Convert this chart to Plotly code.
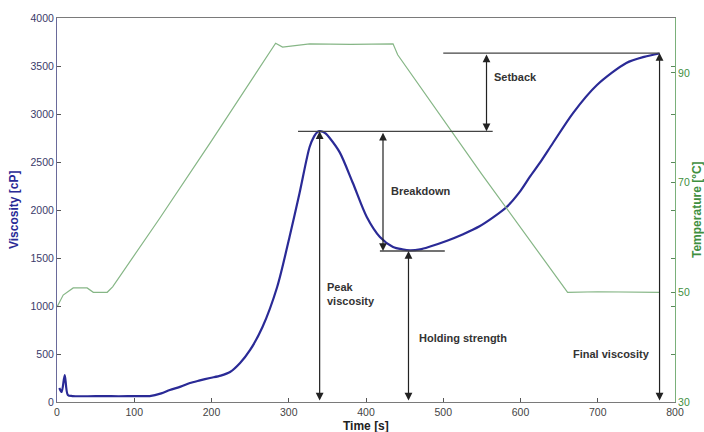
import plotly.graph_objects as go

# viscosity curve (cP) vs time (s)
t_visc = [3, 6, 10, 14, 20, 40, 60, 80, 100, 120, 135, 146, 160, 172, 185, 198,
          212, 224, 237, 250, 266, 285, 301, 314, 327, 333, 337, 340, 344, 348, 353, 366,
          383, 401, 418, 435, 447, 457, 470, 483, 505, 525, 547, 565, 582, 600,
          612, 625, 642, 668, 699, 737, 760, 780]
visc = [146, 104, 281, 73, 62, 60, 62, 60, 62, 62, 90, 125, 160, 198, 225, 250,
        275, 312, 406, 542, 781, 1198, 1719, 2177, 2656, 2770, 2812, 2822, 2815, 2795, 2750, 2600,
        2281, 1927, 1719, 1615, 1590, 1580, 1590, 1620, 1680, 1745, 1830, 1925, 2031, 2200,
        2344, 2490, 2698, 3010, 3302, 3531, 3595, 3630]

# temperature profile (°C)
t_temp = [0, 8, 21, 39, 47, 65, 72, 133, 200, 283, 292, 327, 380, 435, 441,
          550, 661, 700, 780]
temp = [47.3, 49.5, 50.8, 50.8, 50.0, 50.0, 51.0, 63.5, 77.6, 95.4, 94.7, 95.3,
        95.2, 95.3, 93.3, 71.5, 50.0, 50.1, 50.0]

# characteristic points
peak_t, peak_v = 340, 2820
trough_t, trough_v = 455, 1573
final_t, final_v = 780, 3635
breakdown_t = 422
setback_t = 556

fig = go.Figure()
fig.add_trace(go.Scatter(x=t_temp, y=temp, yaxis='y2', mode='lines',
                         line=dict(color='#86b686', width=1.2), showlegend=False))
fig.add_trace(go.Scatter(x=t_visc, y=visc, mode='lines', line_shape='spline',
                         line=dict(color='#2a2a96', width=2.2, smoothing=0.8), showlegend=False))

lc = '#444444'
# horizontal reference lines
fig.add_shape(type='line', x0=312, x1=564, y0=peak_v, y1=peak_v, line=dict(color=lc, width=1.3))
fig.add_shape(type='line', x0=418, x1=502, y0=trough_v, y1=trough_v, line=dict(color=lc, width=1.3))
fig.add_shape(type='line', x0=500, x1=final_t, y0=final_v, y1=final_v, line=dict(color=lc, width=1.3))

def arrow(x, y0, y1):
    fig.add_annotation(x=x, y=y1, ax=x, ay=y0, xref='x', yref='y', axref='x', ayref='y',
                       showarrow=True, arrowhead=2, startarrowhead=2, arrowside='end+start',
                       arrowsize=1.3, startarrowsize=1.3, arrowwidth=1.2, arrowcolor='#222', text='')

arrow(peak_t, 0, peak_v)
arrow(trough_t, 0, trough_v)
arrow(final_t, 0, final_v)
arrow(breakdown_t, peak_v, trough_v)
arrow(setback_t, final_v, peak_v)

tf = dict(family='Liberation Sans, Arial, sans-serif', size=11, color='#333333')
def label(txt, x, y):
    fig.add_annotation(x=x, y=y, text='<b>' + txt + '</b>', showarrow=False, xanchor='left',
                       align='left', font=tf)

label('Peak<br>viscosity', 347, 1125)
label('Breakdown', 430, 2198)
label('Holding strength', 466, 667)
label('Final viscosity', 665, 500)
label('Setback', 563, 3385)

# axis titles
fig.add_annotation(x=0.0, y=0.5, xref='paper', yref='paper', xshift=-43, textangle=-90,
                   xanchor='center', yanchor='middle',
                   text='<b>Viscosity [cP]</b>', showarrow=False,
                   font=dict(family='Liberation Sans, Arial', size=12, color='#2a2a96'))
fig.add_annotation(x=1.0, y=0.5, xref='paper', yref='paper', xshift=22, textangle=-90,
                   xanchor='center', yanchor='middle',
                   text='<b>Temperature [°C]</b>', showarrow=False,
                   font=dict(family='Liberation Sans, Arial', size=12, color='#3f8f3f'))
fig.add_annotation(x=0.5, y=0, xref='paper', yref='paper', yshift=-24,
                   xanchor='center', yanchor='middle',
                   text='<b>Time [s]</b>', showarrow=False,
                   font=dict(family='Liberation Sans, Arial', size=12, color='#222'))

tick_font = dict(family='Liberation Sans Narrow, Arial Narrow, Liberation Sans', size=10.5)
right_vals = [30, 38.75, 47.5, 50, 56.25, 65, 70, 73.75, 82.5, 90, 91.25]
right_text = ['30', '', '', '50', '', '', '70', '', '', '90', '']

fig.update_layout(
    width=704, height=432, margin=dict(l=57, r=29, t=18, b=30),
    plot_bgcolor='white', paper_bgcolor='white',
    xaxis=dict(range=[0, 800], dtick=100, showgrid=False, zeroline=False,
               showline=True, linecolor='#7a7a7a', mirror=True, ticks='inside', ticklen=4,
               tickcolor='#555', tickfont=dict(color='#444', **tick_font)),
    yaxis=dict(range=[0, 4000], dtick=500, showgrid=False, zeroline=False,
               showline=True, linecolor='#6a6a9a', ticks='inside', ticklen=4,
               tickcolor='#555', tickfont=dict(color='#3a3a6a', **tick_font)),
    yaxis2=dict(range=[30, 100], overlaying='y', side='right', showgrid=False, zeroline=False,
                showline=True, linecolor='#7ab07a', ticks='inside', ticklen=4,
                tickcolor='#5a8a5a', tickvals=right_vals, ticktext=right_text,
                tickfont=dict(color='#3f8f3f', **tick_font)),
)

fig.write_html('out.html', config={'displayModeBar': False},
               post_script="document.body.style.margin='0';")
